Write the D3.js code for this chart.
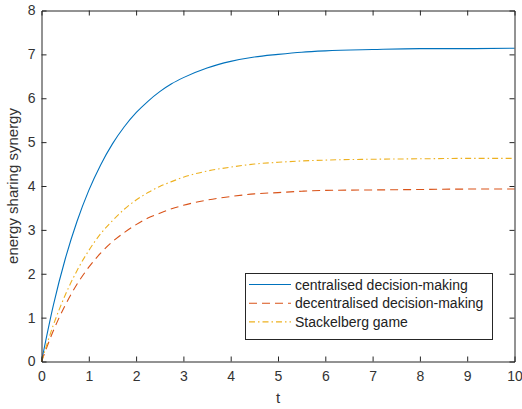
<!DOCTYPE html>
<html><head><meta charset="utf-8">
<script src="https://cdn.jsdelivr.net/npm/d3@7"></script>
<style>body{margin:0;background:#fff}svg{display:block}</style>
</head><body>
<script>
const tValues = [0,0.25,0.5,0.75,1,1.25,1.5,1.75,2,2.25,2.5,2.75,3,3.5,4,4.5,5,5.5,6,7,8,9,10];
const centralised = [0,1.28,2.33,3.19,3.90,4.48,4.96,5.35,5.67,5.93,6.15,6.33,6.47,6.69,6.84,6.94,7.00,7.05,7.08,7.11,7.13,7.13,7.14];
const decentralised = [0,0.70,1.28,1.76,2.15,2.47,2.73,2.94,3.12,3.27,3.38,3.48,3.56,3.68,3.76,3.82,3.85,3.88,3.90,3.91,3.92,3.93,3.93];
const stackelberg = [0,0.83,1.51,2.07,2.53,2.91,3.21,3.47,3.68,3.85,3.99,4.10,4.20,4.34,4.43,4.50,4.54,4.57,4.59,4.61,4.62,4.63,4.63];
const seriesNames = ["centralised decision-making","decentralised decision-making","Stackelberg game"];
const xTicks = [0,1,2,3,4,5,6,7,8,9,10];
const yTicks = [0,1,2,3,4,5,6,7,8];

const W=522,H=409;
const L=41.5,R=514.5,T=10.5,B=361.5;
const colors=["#0072BD","#D95319","#EDB120"];
const dashes=[null,"8,5","6,3,1.5,3"];
const txt="#333";
const font="'Liberation Sans', Arial, sans-serif";

const svg=d3.select("body").append("svg").attr("width",W).attr("height",H);
const x=d3.scaleLinear().domain([0,10]).range([L,R]);
const y=d3.scaleLinear().domain([0,8]).range([B,T]);

const line=d3.line().x(d=>x(d[0])).y(d=>y(d[1])).curve(d3.curveMonotoneX);
[centralised,decentralised,stackelberg].forEach((s,i)=>{
  svg.append("path").datum(tValues.map((t,j)=>[t,s[j]]))
    .attr("d",line).attr("fill","none").attr("stroke",colors[i]).attr("stroke-width",1.1)
    .attr("stroke-dasharray",dashes[i]);
});

// axes
const tick=5;
const gx=svg.append("g").attr("transform",`translate(0,${B})`)
  .call(d3.axisBottom(x).tickValues(xTicks).tickSize(-tick).tickPadding(10).tickFormat(d3.format("d")));
const gxt=svg.append("g").attr("transform",`translate(0,${T})`)
  .call(d3.axisTop(x).tickValues(xTicks).tickSize(-tick).tickFormat(""));
const gy=svg.append("g").attr("transform",`translate(${L},0)`)
  .call(d3.axisLeft(y).tickValues(yTicks).tickSize(-tick).tickPadding(6).tickFormat(d3.format("d")));
const gyr=svg.append("g").attr("transform",`translate(${R},0)`)
  .call(d3.axisRight(y).tickValues(yTicks).tickSize(-tick).tickFormat(""));
[gx,gxt,gy,gyr].forEach(g=>{
  g.select(".domain").attr("stroke","#262626");
  g.selectAll(".tick line").attr("stroke","#262626");
  g.selectAll("text").attr("fill",txt).style("font-family",font).style("font-size","14px");
});
gx.selectAll(".tick line").filter(d=>d===0||d===10).remove();
gxt.selectAll(".tick line").filter(d=>d===0||d===10).remove();
gy.selectAll(".tick line").filter(d=>d===0||d===8).remove();
gyr.selectAll(".tick line").filter(d=>d===0||d===8).remove();

svg.append("text").attr("x",(L+R)/2).attr("y",403).attr("text-anchor","middle")
  .attr("fill",txt).style("font-family",font).style("font-size","15px").text("t");
svg.append("text").attr("transform",`translate(18,${(T+B)/2}) rotate(-90)`).attr("text-anchor","middle")
  .attr("fill",txt).style("font-family",font).style("font-size","15px").text("energy sharing synergy");

// legend
const lg=svg.append("g");
lg.append("rect").attr("x",245.5).attr("y",273.5).attr("width",247).attr("height",66)
  .attr("fill","#fff").attr("stroke","#262626").attr("stroke-width",1);
seriesNames.forEach((n,i)=>{
  const yy=284.5+i*18.7;
  lg.append("line").attr("x1",249).attr("x2",291).attr("y1",yy).attr("y2",yy)
    .attr("stroke",colors[i]).attr("stroke-width",1.1).attr("stroke-dasharray",dashes[i]);
  lg.append("text").attr("x",295).attr("y",yy+5).attr("fill","#222")
    .style("font-family",font).style("font-size","14px").text(n);
});
</script>
</body></html>
